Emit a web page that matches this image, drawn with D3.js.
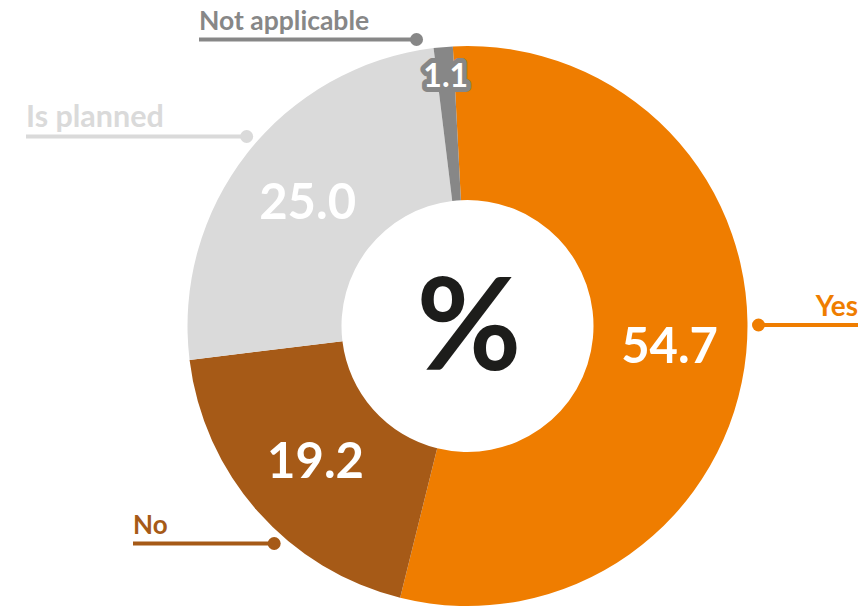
<!DOCTYPE html>
<html>
<head>
<meta charset="utf-8">
<script src="https://cdn.jsdelivr.net/npm/d3@7/dist/d3.min.js"></script>
<style>
  html, body { margin: 0; padding: 0; background: #fff; }
  svg { display: block; font-family: Lato, "Open Sans", sans-serif; }
</style>
</head>
<body>
<svg id="chart" width="868" height="607"></svg>
<script>
// Survey answers, in percent
const categories = ["Yes", "No", "Is planned", "Not applicable"];
const values = [54.7, 19.2, 25.0, 1.1];
const valueLabels = ["54.7", "19.2", "25.0", "1.1"];
const centerLabel = "%";

const colors = ["#EF7D00", "#A65A17", "#DADADA", "#878787"];

// Callout layout: which side the label sits on and the row it is drawn on
const callouts = {
  "Yes":            { side: "right", y: 325,   end: 858, size: 28 },
  "No":             { side: "left",  y: 543.5, end: 133, size: 26 },
  "Is planned":     { side: "left",  y: 136.5, end: 26,  size: 30.5 },
  "Not applicable": { side: "left",  y: 39.5,  end: 199, size: 26.5 }
};

const svg = d3.select("#chart");
const cx = 467.5, cy = 326;
const rInner = 126, rOuter = 280, rDot = 291;

const data = categories.map((c, i) => ({ category: c, value: values[i], label: valueLabels[i], color: colors[i] }));

const start = -3 * Math.PI / 180;
const pie = d3.pie().sort(null).value(d => d.value)
  .startAngle(start).endAngle(start + 2 * Math.PI);
const arcs = pie(data);

const arc = d3.arc().innerRadius(rInner).outerRadius(rOuter);
const outerLabelArc = d3.arc().innerRadius(251).outerRadius(251);

const g = svg.append("g").attr("transform", `translate(${cx},${cy})`);

g.selectAll("path.slice")
  .data(arcs)
  .join("path")
  .attr("class", "slice")
  .attr("d", arc)
  .attr("fill", d => d.data.color);

// Value labels inside the ring; narrow slices get theirs near the rim,
// with a halo in the slice colour so the figure stays readable
g.selectAll("text.value")
  .data(arcs)
  .join("text")
  .attr("class", "value")
  .attr("transform", d => {
    const small = d.data.value < 5;
    const p = small ? outerLabelArc.centroid(d) : arc.centroid(d);
    return `translate(${p[0]},${p[1]})`;
  })
  .attr("text-anchor", "middle")
  .attr("dy", "0.36em")
  .attr("fill", "#fff")
  .attr("stroke", d => d.data.value < 5 ? d.data.color : "none")
  .attr("stroke-width", 10)
  .attr("stroke-linejoin", "round")
  .attr("paint-order", "stroke")
  .attr("font-weight", 700)
  .attr("font-size", d => d.data.value < 5 ? 32 : 49)
  .text(d => d.data.label);

// Center symbol
g.append("text")
  .attr("x", 1.5)
  .attr("y", 44)
  .attr("text-anchor", "middle")
  .attr("fill", "#1D1D1B")
  .attr("font-weight", 700)
  .attr("font-size", 128)
  .text(centerLabel);

// Callouts: a horizontal leader from the rim out to the category name
const co = svg.append("g");
data.forEach(d => {
  const c = callouts[d.category];
  const dy = c.y - cy;
  const dx = Math.sqrt(Math.max(0, rDot * rDot - dy * dy));
  const dotX = c.side === "right" ? cx + dx : cx - dx;
  co.append("line")
    .attr("x1", dotX).attr("x2", c.end)
    .attr("y1", c.y).attr("y2", c.y)
    .attr("stroke", d.color)
    .attr("stroke-width", 4);
  co.append("circle")
    .attr("cx", dotX).attr("cy", c.y).attr("r", 6.5)
    .attr("fill", d.color);
  co.append("text")
    .attr("x", c.end)
    .attr("y", c.y - 9.5)
    .attr("text-anchor", c.side === "right" ? "end" : "start")
    .attr("fill", d.color)
    .attr("font-weight", 700)
    .attr("font-size", c.size)
    .text(d.category);
});
</script>
</body>
</html>
